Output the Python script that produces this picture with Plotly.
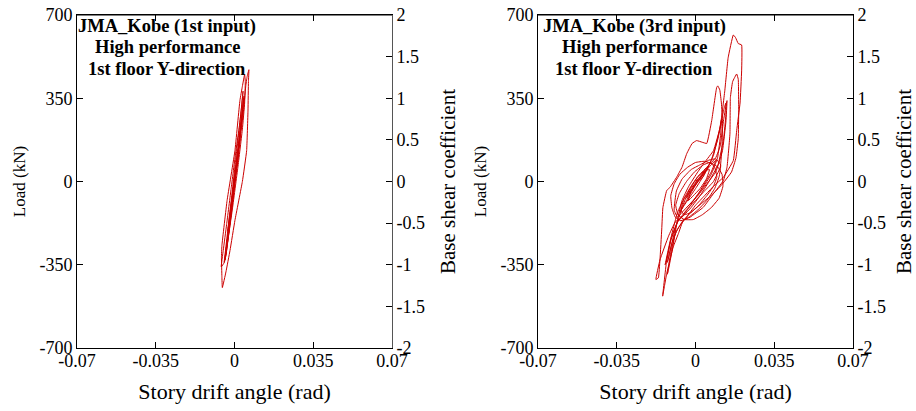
import plotly.graph_objects as go

# ---------------- data ----------------
x_tickvals = [-0.07, -0.035, 0, 0.035, 0.07]
x_ticktext = ["-0.07", "-0.035", "0", "0.035", "0.07"]
load_tickvals = [-700, -350, 0, 350, 700]
load_ticktext = ["-700", "-350", "0", "350", "700"]
coef_tickvals = [-2, -1.5, -1, -0.5, 0, 0.5, 1, 1.5, 2]
coef_ticktext = ["-2", "-1.5", "-1", "-0.5", "0", "0.5", "1", "1.5", "2"]

title_lines_1st = ["JMA_Kobe (1st input)", "High performance", "1st floor Y-direction"]
title_lines_3rd = ["JMA_Kobe (3rd input)", "High performance", "1st floor Y-direction"]

# 1st input: story drift angle (rad) and load (kN)
drift_1st = [0, 0.001, 0.002, 0.0012, -0.0005, -0.0015, -0.0008, 0.001, 0.0025, 0.0015,
             -0.0005, -0.002, -0.0028, -0.0018, 0.0005, 0.002, 0.0035, 0.0042, 0.0035, 0.0022,
             0, -0.002, -0.0035, -0.0042, -0.0035, -0.002, 0, 0.002, 0.0038, 0.005,
             0.0056, 0.0064, 0.0062, 0.006, 0.0054, 0.0035, 0.0002, -0.002, -0.0038, -0.0054,
             -0.0056, -0.0058, -0.0056, -0.0033, 0.0002, 0.0024, 0.0035, 0.0045, 0.0048, 0.0045,
             0.0035, 0.0015, -0.001, -0.003, -0.0045, -0.0059, -0.005, -0.0035, -0.0015, 0.0005,
             0.002, 0.003, 0.0038, 0.0033, 0.0022, 0.0005, -0.0012, -0.0028, -0.004, -0.0046,
             -0.0038, -0.0024, -0.0008, 0.001, 0.0026, 0.0036, 0.0041, 0.0034, 0.0018, 0,
             -0.0018, -0.0032, -0.0042, -0.0036, -0.002, -0.0004, 0.0012, 0.0025, 0.003, 0.0025,
             0.001, -0.001, -0.0025, -0.003, -0.002, 0, 0.0015, 0.001, -0.0005, 0]
load_1st = [0, 60, 130, 70, -40, -110, -60, 70, 180, 110,
            -50, -170, -230, -150, 30, 160, 280, 360, 300, 180,
            0, -160, -270, -330, -290, -180, -20, 140, 280, 400,
            440, 470, 420, 300, 130, 0, -163, -290, -380, -446,
            -400, -320, -270, -80, 130, 340, 400, 450, 420, 330,
            220, 60, -120, -250, -340, -359, -290, -180, -30, 120,
            220, 300, 380, 330, 230, 90, -60, -190, -290, -340,
            -310, -200, -70, 80, 210, 300, 350, 290, 160, 10,
            -130, -240, -320, -280, -170, -40, 90, 200, 250, 200,
            80, -70, -180, -210, -130, 20, 130, 80, -30, 0]

# 3rd input
drift_3rd = [0, 0.002, 0.004, 0.002, -0.002, -0.004, -0.002, 0.003, 0.006, 0.004,
             0, -0.005, -0.007, -0.004, 0.001, 0.006, 0.009, 0.007, 0.002, -0.003,
             -0.006, -0.009, -0.012, -0.0158, -0.0176, -0.0165, -0.0158, -0.015, -0.0145, -0.0128,
             -0.0113, -0.0084, -0.006, -0.0039, -0.0015, 0.0005, 0.003, 0.005, 0.0072, 0.0094,
             0.0099, 0.0108, 0.0115, 0.012, 0.0118, 0.011, 0.008, 0.004, 0, -0.004,
             -0.008, -0.011, -0.0128, -0.0146, -0.0138, -0.0128, -0.0099, -0.0076, -0.0054, -0.0024,
             0.0035, 0.0079, 0.0124, 0.014, 0.0153, 0.0155, 0.0165, 0.0183, 0.019, 0.0192,
             0.019, 0.018, 0.016, 0.012, 0.008, 0.003, -0.002, -0.006, -0.009, -0.011,
             -0.0125, -0.0118, -0.010, -0.008, -0.006, -0.003, 0.001, 0.004, 0.008, 0.011,
             0.013, 0.0145, 0.0168, 0.0178, 0.019, 0.0205, 0.0205, 0.0198, 0.0183, 0.0168,
             0.0124, 0.008, 0.004, 0, -0.004, -0.008, -0.0105, -0.0125, -0.0115, -0.009,
             -0.006, -0.003, 0.001, 0.005, 0.009, 0.011, 0.0125, 0.014, 0.0135, 0.012,
             0.009, 0.005, 0.001, -0.003, -0.006, -0.008, -0.0095, -0.0085, -0.006, -0.002,
             0.002, 0.006, 0.009, 0.0112, 0.0105, 0.0085, 0.005, 0.001, -0.003, -0.0065,
             -0.009, -0.0105, -0.011, -0.0095, -0.007, -0.0035, 0, 0.004, 0.0075, 0.010,
             0.0118, 0.0122, 0.0105, 0.007, 0.003, -0.001, -0.005, -0.0078, -0.0088, -0.0072,
             -0.004, -0.0005, 0.0035, 0.0065, 0.0085, 0.0095, 0.008, 0.005, 0.0015, -0.002,
             -0.005, -0.0065, -0.005, -0.002, 0.001, 0.004, 0.0062, 0.0048, 0.002, -0.001,
             -0.0032, -0.002, 0.0005, 0.003]
load_3rd = [0, 20, 45, 10, -40, -70, -30, 30, 70, 30,
            -30, -100, -130, -80, 0, 60, 90, 40, -40, -110,
            -150, -170, -230, -330, -412, -405, -330, -200, -110, -38,
            -24, 18, 60, 117, 160, 172, 165, 160, 256, 395,
            402, 385, 330, 250, 150, 60, 0, -40, -80, -120,
            -170, -250, -330, -482, -440, -387, -275, -219, -163, -150,
            -108, -52, 4, 60, 200, 353, 420, 452, 430, 300,
            180, 100, 40, -10, -50, -90, -130, -170, -220, -300,
            -390, -360, -270, -160, -80, -20, 40, 80, 130, 230,
            380, 520, 616, 605, 580, 574, 465, 330, 214, 88,
            18, -20, -60, -100, -150, -200, -260, -340, -300, -200,
            -110, -40, 20, 60, 100, 150, 260, 340, 250, 130,
            40, -10, -60, -100, -130, -150, -120, -40, 10, 50,
            70, 90, 95, 70, 20, -30, -80, -120, -150, -165,
            -150, -110, -60, -10, 30, 60, 80, 85, 75, 60,
            30, -20, -70, -110, -140, -160, -160, -140, -100, -50,
            0, 40, 70, 80, 60, 20, -20, -60, -100, -130,
            -140, -120, -70, -20, 20, 45, 50, 10, -30, -60,
            -80, -40, 0, 15]
# last cycles of the 3rd input
drift_3rd_end = [0.007, 0.010, 0.0125, 0.0135, 0.0135, 0.0125, 0.010, 0.006, 0.002, -0.002,
                 -0.005, -0.008, -0.011, -0.0135, -0.0128, -0.0105, -0.008, -0.005, -0.003, 0.001,
                 0.005, 0.008, 0.0105, 0.0115, 0.0112, 0.0098, 0.007, 0.003, -0.001, -0.004]
load_3rd_end = [90, 180, 300, 330, 280, 180, 70, 0, -60, -110,
                -140, -170, -240, -350, -330, -220, -130, -70, -50, 0,
                50, 110, 210, 260, 200, 100, 30, -30, -80, -110]

# ---------------- figure ----------------
FONT = "Liberation Serif"
RED = "#CC0000"
W, H = 916, 411
PLOT_TOP, PLOT_BOTTOM = 15, 348
PLOT_H = PLOT_BOTTOM - PLOT_TOP

fig = go.Figure()
fig.add_trace(go.Scatter(x=drift_1st, y=load_1st, mode="lines",
                         line=dict(color=RED, width=1, shape="spline", smoothing=0.3),
                         xaxis="x", yaxis="y", showlegend=False))
fig.add_trace(go.Scatter(x=drift_3rd + drift_3rd_end, y=load_3rd + load_3rd_end, mode="lines",
                         line=dict(color=RED, width=1, shape="spline", smoothing=0.3),
                         xaxis="x2", yaxis="y3", showlegend=False))
# empty traces so that the secondary (base shear coefficient / top) axes get drawn
for xa_, ya_ in [("x", "y2"), ("x2", "y4"), ("x3", "y"), ("x4", "y3")]:
    fig.add_trace(go.Scatter(x=[0], y=[0], mode="lines", xaxis=xa_, yaxis=ya_,
                             showlegend=False, hoverinfo="skip"))

tickfont = dict(family=FONT, size=18, color="black")

def xax(domain, anchor):
    return dict(domain=domain, anchor=anchor, range=[-0.07, 0.07], tickvals=x_tickvals,
                ticktext=x_ticktext, ticks="inside", ticklen=6, tickcolor="black",
                showline=True, linecolor="black", linewidth=1, mirror=False, showgrid=False,
                zeroline=False, tickfont=tickfont, ticklabelstandoff=-4,
                ticklabeloverflow="allow",
                title=dict(text="Story drift angle (rad)",
                           font=dict(family=FONT, size=22, color="black"), standoff=14),
                automargin=False, fixedrange=True)

def xax_top(overlay, anchor):
    return dict(overlaying=overlay, anchor=anchor, side="top", range=[-0.07, 0.07],
                tickvals=x_tickvals, ticks="inside", ticklen=6, tickcolor="black",
                showline=True, linecolor="black", linewidth=1, showgrid=False, zeroline=False,
                showticklabels=False, automargin=False, fixedrange=True)

def yax_load(anchor):
    return dict(anchor=anchor, domain=[0, 1], range=[-700, 700], tickvals=load_tickvals,
                ticktext=load_ticktext, ticks="inside", ticklen=6, tickcolor="black",
                showline=True, linecolor="black", linewidth=1, showgrid=False, zeroline=False,
                tickfont=tickfont, ticklabeloverflow="allow",
                title=dict(text="Load (kN)", font=dict(family=FONT, size=17, color="black"),
                           standoff=9),
                automargin=False, fixedrange=True)

def yax_coef(anchor, overlay, lc):
    return dict(anchor=anchor, overlaying=overlay, side="right", range=[-2, 2],
                tickvals=coef_tickvals, ticktext=coef_ticktext, ticks="inside", ticklen=6,
                tickcolor="black", showline=True, linecolor=lc, linewidth=1, showgrid=False,
                zeroline=False, tickfont=tickfont, ticklabeloverflow="allow",
                title=dict(text="Base shear coefficient",
                           font=dict(family=FONT, size=21, color="black"), standoff=16),
                automargin=False, fixedrange=True)

d1 = [77 / W, 392 / W]
d2 = [538 / W, 853 / W]

fig.update_layout(
    width=W, height=H,
    margin=dict(l=0, r=0, t=PLOT_TOP, b=H - PLOT_BOTTOM),
    paper_bgcolor="white", plot_bgcolor="white",
    font=dict(family=FONT, color="black"),
    xaxis=xax(d1, "y"),
    yaxis=yax_load("x"),
    yaxis2=yax_coef("x", "y", "#555555"),
    xaxis2=xax(d2, "y3"),
    yaxis3=yax_load("x2"),
    yaxis4=yax_coef("x2", "y3", "black"),
    xaxis3=xax_top("x", "y"),
    xaxis4=xax_top("x2", "y3"),
    showlegend=False,
)

# top frame line of each panel
for xr, yr in [("x", "y"), ("x2", "y3")]:
    fig.add_shape(type="line", xref=xr + " domain", yref=yr + " domain", x0=0, x1=1, y0=1, y1=1,
                  line=dict(color="black", width=1), layer="above")

# title lines: centre y (pixels) of each text line
line_centres = [26, 47.5, 69]
for cx, lines in [(167, title_lines_1st), (634, title_lines_3rd)]:
    for cy, txt in zip(line_centres, lines):
        fig.add_annotation(x=cx / W, y=(PLOT_BOTTOM - cy) / PLOT_H,
                           xref="paper", yref="paper", xanchor="center", yanchor="middle",
                           text="<b>" + txt + "</b>", showarrow=False,
                           font=dict(family=FONT, size=18.5, color="black"))

fig.write_html("out.html", config={"displayModeBar": False},
               post_script="document.body.style.margin='0px';")
